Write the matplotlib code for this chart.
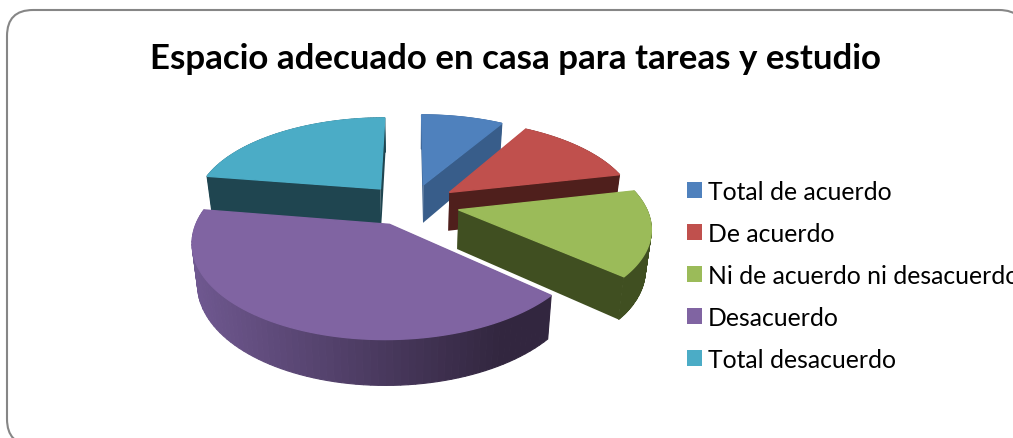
import numpy as np
import matplotlib
matplotlib.use("Agg")
import matplotlib.pyplot as plt
from matplotlib.patches import Polygon, FancyBboxPatch, Patch
from matplotlib.colors import to_rgb

categories = ["Total de acuerdo", "De acuerdo", "Ni de acuerdo ni desacuerdo", "Desacuerdo", "Total desacuerdo"]
values = [8.5, 13.0, 15.0, 41.0, 22.5]
top_colors = ["#4F81BD", "#C0504D", "#9BBB59", "#8064A2", "#4BACC6"]
side_colors = ["#385D8A", "#4F1F1C", "#404F21", "#6F5890", "#1F4550"]
side_end_colors = ["#385D8A", "#4F1F1C", "#404F21", "#32263F", "#1F4550"]
title = "Espacio adecuado en casa para tareas y estudio"
draw_order = [4, 0, 1, 2, 3]

W, H = 1013, 439
CX, CY, A, B, P = 411.0, 205.5, 186.5, 88.0, 0.17
EXPLODE_X, EXPLODE_Y, DEPTH = 0.26, 0.24, 39.0


def project(X, Y, drop=0.0):
    w = 1 + P * Y
    sx = CX + A * X / w
    sy = CY - B * Y / w
    if drop:
        sx = CX + (sx - CX) * 0.975
        sy = sy + drop / w ** 0.7
    return sx, sy


fig = plt.figure(figsize=(W / 100, H / 100), dpi=100)
ax = fig.add_axes([0, 0, 1, 1])
ax.set_xlim(0, W)
ax.set_ylim(H, 0)
ax.axis("off")

ax.add_patch(FancyBboxPatch((33, 37), 966, 383, boxstyle="round,pad=26,rounding_size=26",
                            fc="white", ec="#868686", lw=1.5, zorder=0))

edges = np.cumsum([0] + values) / sum(values) * 2 * np.pi
z = 1
for i in draw_order:
    t0, t1 = edges[i], edges[i + 1]
    mid = (t0 + t1) / 2
    ox, oy = EXPLODE_X * np.sin(mid), EXPLODE_Y * np.cos(mid)
    t = np.linspace(t0, t1, 80)
    rx, ry = ox + np.sin(t), oy + np.cos(t)
    c0, c1 = np.array(to_rgb(side_colors[i])), np.array(to_rgb(side_end_colors[i]))

    # radial faces of the slice
    for tt in (t0, t1):
        q = [project(ox, oy), project(ox + np.sin(tt), oy + np.cos(tt)),
             project(ox + np.sin(tt), oy + np.cos(tt), DEPTH), project(ox, oy, DEPTH)]
        ax.add_patch(Polygon(q, closed=True, fc=side_colors[i] if i != 3 else side_end_colors[i],
                             ec="none", zorder=z))
    z += 1
    # outer wall
    sx, sy = project(rx, ry)
    bx, by = project(rx, ry, DEPTH)
    left_x, right_x = sx.min(), sx.max()
    for k in range(len(t) - 1):
        f = np.clip((sx[k] - left_x) / max(right_x - left_x, 1) * 1.15, 0, 1)
        col = c0 + (c1 - c0) * f
        ax.add_patch(Polygon([(sx[k], sy[k]), (sx[k + 1], sy[k + 1]), (bx[k + 1], by[k + 1]), (bx[k], by[k])],
                             closed=True, fc=col, ec=col, lw=0.8, zorder=z))
    z += 1
    # top face
    ax.add_patch(Polygon([project(ox, oy)] + list(zip(sx, sy)), closed=True,
                         fc=top_colors[i], ec=top_colors[i], lw=1.0, zorder=z))
    z += 1

ax.text(516, 59, title, ha="center", va="center", family="Lato", weight="bold", fontsize=25.1, color="black", zorder=z)

handles = [Patch(fc=c, ec="none") for c in top_colors]
leg = ax.legend(handles, categories, loc="upper left", bbox_to_anchor=(682 / W, 1 - 176 / H),
                frameon=False, prop={"family": "Lato", "size": 17.8}, labelcolor="black",
                handlelength=0.61, handleheight=0.61, handletextpad=0.25, labelspacing=0.77,
                borderpad=0.2, borderaxespad=0)
leg.set_zorder(z)
fig.savefig("out.png", dpi=100)
